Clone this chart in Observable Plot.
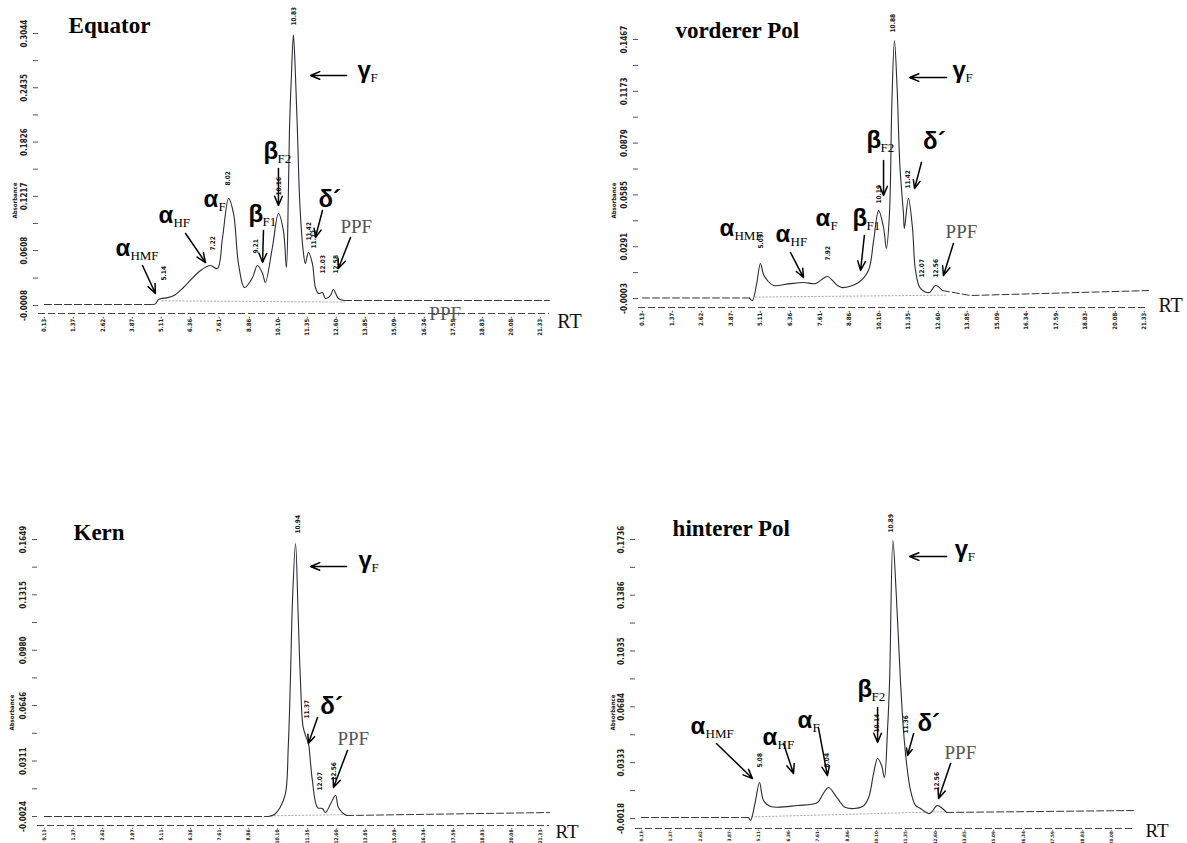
<!DOCTYPE html>
<html><head><meta charset="utf-8">
<script src="https://cdn.jsdelivr.net/npm/d3@7"></script>
<script src="https://cdn.jsdelivr.net/npm/@observablehq/plot@0.6"></script>
<style>
body{margin:0;background:#fff;}
#wrap{position:relative;width:1187px;height:843px;overflow:hidden;background:#fff;}
#wrap svg{position:absolute;left:0;top:0;}
</style></head><body><div id="wrap"></div>
<script>
// ---------- shared RT axis ticks ----------
const rtTicks = [0.13,1.37,2.62,3.87,5.11,6.36,7.61,8.86,10.10,11.35,12.60,13.85,15.09,16.34,17.59,18.83,20.08,21.33];
const rtTicksHinten = [0.13,1.37,2.62,3.87,5.11,6.36,7.61,8.86,10.10,11.35,12.60,13.85,15.09,16.34,17.59,18.83,20.08];

const panelTitles = ["Equator","vorderer Pol","Kern","hinterer Pol"];
const titleRT  = [1.16, 1.52, 1.37, 1.45];
const titleAbs = [0.3055, 0.1478, 0.1643, 0.1761];
const rtLabelRT  = [22.05, 21.92, 21.97, 21.52];
const rtLabelAbs = [-0.0266, -0.0077, -0.0151, -0.0137];
const absLabelRT  = [-1.11, -1.09, -1.24, -1.06];
const absLabelAbs = [0.1170, 0.0553, 0.0604, 0.0648];

// ---------- Equator ----------
const eqYTicks = [-0.0008, 0.0608, 0.1217, 0.1826, 0.2435, 0.3044];
const eqRT  = [0.13,4.75,4.87,5.00,5.14,5.40,5.70,6.07,6.80,7.22,7.52,7.74,8.00,8.21,8.42,8.68,9.02,9.23,9.45,9.57,9.87,10.13,10.34,10.47,10.55,10.60,10.68,10.77,10.86,10.94,11.05,11.20,11.28,11.41,11.58,11.71,11.84,12.01,12.14,12.35,12.48,12.69,12.95,21.71];
const eqAbs = [0.0003,0.0003,0.0010,0.0060,0.0071,0.0080,0.0110,0.0194,0.0385,0.0441,0.0407,0.0755,0.1193,0.1024,0.0463,0.0194,0.0306,0.0441,0.0351,0.0250,0.0643,0.1024,0.0834,0.0418,0.1200,0.1956,0.2550,0.3030,0.2550,0.1956,0.1100,0.0575,0.0463,0.0587,0.0463,0.0194,0.0127,0.0138,0.0071,0.0104,0.0172,0.0071,0.0048,0.0048];
const eqBaseRT = [5.14, 12.95];
const eqBaseAbs = [0.0045, 0.0030];
const eqPeakText = ["5.14","7.22","8.02","9.21","10.16","10.83","11.42","11.72","12.03","12.58"];
const eqPeakRT  = [5.22, 7.31, 7.99, 9.15, 10.17, 10.77, 11.41, 11.63, 12.05, 12.57];
const eqPeakAbs = [0.0273, 0.0609, 0.1338, 0.0575, 0.1226, 0.3134, 0.0721, 0.0632, 0.0351, 0.0351];
const eqSymMain = ["γ","β","α","β","δ´","α","α"];
const eqSymSub  = ["F","F2","F","F1","","HF","HMF"];
const eqSymRT   = [13.51, 9.49, 6.93, 8.85, 11.84, 5.00, 3.16];
const eqSymAbs  = [0.2550, 0.1641, 0.1092, 0.0934, 0.1092, 0.0923, 0.0553];
const eqArrRT1  = [13.04, 10.13, 9.49, 12.01, 6.16, 4.32, 13.21];
const eqArrAbs1 = [0.2573, 0.1529, 0.0834, 0.1058, 0.0800, 0.0441, 0.0755];
const eqArrRT2  = [11.50, 10.13, 9.45, 11.71, 7.01, 4.87, 12.69];
const eqArrAbs2 = [0.2573, 0.1114, 0.0474, 0.0755, 0.0474, 0.0127, 0.0407];
const eqPpfRT  = [12.78, 16.58];
const eqPpfAbs = [0.0800, -0.0176];

// ---------- vorderer Pol ----------
const vpYTicks = [-0.0003, 0.0291, 0.0585, 0.0879, 0.1173, 0.1467];
const vpRT  = [0.13,4.65,4.77,4.95,5.11,5.25,5.41,5.66,6.30,6.93,7.44,7.70,7.94,8.36,8.58,9.25,9.67,9.89,10.10,10.31,10.43,10.56,10.66,10.77,10.88,11.00,11.15,11.19,11.36,11.53,11.66,11.87,12.25,12.50,12.80,13.98,21.50];
const vpAbs = [0.0000,0.0000,-0.0015,0.0080,0.0196,0.0130,0.0099,0.0071,0.0080,0.0088,0.0082,0.0105,0.0122,0.0071,0.0059,0.0088,0.0156,0.0326,0.0496,0.0400,0.0281,0.0479,0.1100,0.1461,0.1200,0.0750,0.0479,0.0394,0.0565,0.0400,0.0156,0.0054,0.0031,0.0071,0.0042,0.0014,0.0042];
const vpBaseRT = [4.90, 13.00];
const vpBaseAbs = [0.0005, 0.0016];
const vpPeakText = ["5.09","7.92","10.19","10.88","11.42","12.07","12.56"];
const vpPeakRT  = [5.11, 7.98, 10.10, 10.69, 11.32, 11.95, 12.50];
const vpPeakAbs = [0.0281, 0.0213, 0.0536, 0.1507, 0.0621, 0.0116, 0.0116];
const vpSymMain = ["γ","β","δ´","α","α","α","β"];
const vpSymSub  = ["F","F2","","HMF","HF","F","F1"];
const vpSymRT   = [13.22, 9.59, 11.98, 3.38, 5.75, 7.44, 9.00];
const vpSymAbs  = [0.1246, 0.0854, 0.0848, 0.0349, 0.0315, 0.0411, 0.0411];
const vpArrRT1  = [12.97, 10.31, 11.91, 6.38, 9.50, 13.26];
const vpArrAbs1 = [0.1251, 0.0780, 0.0769, 0.0258, 0.0355, 0.0309];
const vpArrRT2  = [11.41, 10.31, 11.62, 6.93, 9.34, 12.84];
const vpArrAbs2 = [0.1251, 0.0582, 0.0621, 0.0116, 0.0156, 0.0128];
const vpPpfRT  = [12.93];
const vpPpfAbs = [0.0338];

// ---------- Kern ----------
const knYTicks = [-0.0024, 0.0311, 0.0646, 0.0980, 0.1315, 0.1649];
const knRT  = [0.13,9.70,9.96,10.20,10.43,10.55,10.64,10.73,10.86,10.97,11.07,11.18,11.30,11.41,11.50,11.58,11.80,12.01,12.14,12.35,12.57,12.69,12.86,13.04,21.71];
const knAbs = [-0.0024,-0.0024,-0.0012,0.0030,0.0115,0.0400,0.0797,0.1281,0.1625,0.1200,0.0797,0.0520,0.0460,0.0417,0.0300,0.0193,0.0030,0.0024,0.0000,0.0050,0.0103,0.0030,0.0000,-0.0018,0.0000];
const knBaseRT = [9.80, 13.04];
const knBaseAbs = [-0.0020, -0.0012];
const knPeakText = ["10.94","11.37","12.07","12.56"];
const knPeakRT  = [10.94, 11.33, 11.92, 12.52];
const knPeakAbs = [0.1685, 0.0568, 0.0133, 0.0193];
const knSymMain = ["γ","δ´"];
const knSymSub  = ["F",""];
const knSymRT   = [13.55, 11.92];
const knSymAbs  = [0.1474, 0.0598];
const knArrRT1  = [13.04, 11.80, 13.08];
const knArrAbs1 = [0.1486, 0.0574, 0.0375];
const knArrRT2  = [11.50, 11.41, 12.48];
const knArrAbs2 = [0.1486, 0.0417, 0.0151];
const knPpfRT  = [12.65];
const knPpfAbs = [0.0405];

// ---------- hinterer Pol ----------
const hpYTicks = [-0.0018, 0.0333, 0.0684, 0.1035, 0.1386, 0.1736];
const hpRT  = [0.13,4.68,4.76,4.95,5.14,5.31,5.61,6.75,7.60,7.85,8.07,8.45,8.79,9.51,9.77,9.98,10.15,10.32,10.44,10.57,10.66,10.80,10.94,11.12,11.25,11.38,11.55,11.76,11.97,12.35,12.69,12.90,13.08,21.01];
const hpAbs = [-0.0012,-0.0012,-0.0030,0.0080,0.0208,0.0095,0.0057,0.0064,0.0083,0.0140,0.0177,0.0108,0.0051,0.0057,0.0114,0.0265,0.0359,0.0315,0.0240,0.0535,0.0850,0.1730,0.1400,0.0850,0.0535,0.0328,0.0158,0.0064,0.0045,0.0013,0.0064,0.0045,0.0020,0.0032];
const hpBaseRT = [4.80, 13.08];
const hpBaseAbs = [-0.0008, 0.0025];
const hpPeakText = ["5.08","8.04","10.14","10.89","11.36","12.56"];
const hpPeakRT  = [5.14, 8.02, 10.10, 10.70, 11.34, 12.65];
const hpPeakAbs = [0.0303, 0.0303, 0.0523, 0.1780, 0.0516, 0.0158];
const hpSymMain = ["γ","β","δ´","α","α","α"];
const hpSymSub  = ["F","F2","","HMF","HF","F"];
const hpSymRT   = [13.42, 9.30, 11.84, 2.21, 5.27, 6.75];
const hpSymAbs  = [0.1629, 0.0743, 0.0535, 0.0516, 0.0441, 0.0548];
const hpArrRT1  = [13.08, 10.15, 11.68, 13.25, 3.31, 6.16, 7.64];
const hpArrAbs1 = [0.1629, 0.0680, 0.0516, 0.0328, 0.0454, 0.0454, 0.0554];
const hpArrRT2  = [11.51, 10.15, 11.42, 12.74, 4.84, 6.58, 8.02];
const hpArrAbs2 = [0.1629, 0.0460, 0.0378, 0.0108, 0.0233, 0.0265, 0.0252];
const hpPpfRT  = [12.99];
const hpPpfAbs = [0.0359];

// ---------- layout (pixels) ----------
const W = 1187, H = 843;
const layouts = [
  {axisX: 38, top: 32, bottom: 313, right: 549, xRange: [44, 540], yRange: [305, 33], lo: 4.75, hi: 12.95, xFont: 6, xPad: 3, rtFont: 20},
  {axisX: 638, top: 39, bottom: 307, right: 1148, xRange: [642, 1144], yRange: [298, 39], lo: 4.65, hi: 12.80, xFont: 6, xPad: 3, rtFont: 20},
  {axisX: 37, top: 539, bottom: 825, right: 549, xRange: [44, 540], yRange: [816, 539], lo: 9.70, hi: 13.04, xFont: 5, xPad: 2, rtFont: 19},
  {axisX: 635, top: 539, bottom: 828, right: 1133, xRange: [641, 1140.5], yRange: [818, 539], lo: 4.68, hi: 13.08, xFont: 4.6, xPad: 1, rtFont: 19}
];

const panels = [
  {yTicks: eqYTicks, xTicks: rtTicks, rt: eqRT, abs: eqAbs, baseRT: eqBaseRT, baseAbs: eqBaseAbs,
   peakText: eqPeakText, peakRT: eqPeakRT, peakAbs: eqPeakAbs,
   symMain: eqSymMain, symSub: eqSymSub, symRT: eqSymRT, symAbs: eqSymAbs,
   a1: eqArrRT1, b1: eqArrAbs1, a2: eqArrRT2, b2: eqArrAbs2, ppfRT: eqPpfRT, ppfAbs: eqPpfAbs},
  {yTicks: vpYTicks, xTicks: rtTicks, rt: vpRT, abs: vpAbs, baseRT: vpBaseRT, baseAbs: vpBaseAbs,
   peakText: vpPeakText, peakRT: vpPeakRT, peakAbs: vpPeakAbs,
   symMain: vpSymMain, symSub: vpSymSub, symRT: vpSymRT, symAbs: vpSymAbs,
   a1: vpArrRT1, b1: vpArrAbs1, a2: vpArrRT2, b2: vpArrAbs2, ppfRT: vpPpfRT, ppfAbs: vpPpfAbs},
  {yTicks: knYTicks, xTicks: rtTicks, rt: knRT, abs: knAbs, baseRT: knBaseRT, baseAbs: knBaseAbs,
   peakText: knPeakText, peakRT: knPeakRT, peakAbs: knPeakAbs,
   symMain: knSymMain, symSub: knSymSub, symRT: knSymRT, symAbs: knSymAbs,
   a1: knArrRT1, b1: knArrAbs1, a2: knArrRT2, b2: knArrAbs2, ppfRT: knPpfRT, ppfAbs: knPpfAbs},
  {yTicks: hpYTicks, xTicks: rtTicksHinten, rt: hpRT, abs: hpAbs, baseRT: hpBaseRT, baseAbs: hpBaseAbs,
   peakText: hpPeakText, peakRT: hpPeakRT, peakAbs: hpPeakAbs,
   symMain: hpSymMain, symSub: hpSymSub, symRT: hpSymRT, symAbs: hpSymAbs,
   a1: hpArrRT1, b1: hpArrAbs1, a2: hpArrRT2, b2: hpArrAbs2, ppfRT: hpPpfRT, ppfAbs: hpPpfAbs}
];

const SANS = "'Liberation Sans', Arial, sans-serif";
const SERIF = "'Liberation Serif', 'Times New Roman', serif";
const NARROW = "'Liberation Sans Narrow', 'DejaVu Sans Condensed', 'DejaVu Sans', sans-serif";
const subShift = {"α": 15, "β": 14, "γ": 13};

function makePanel(p, L, i) {
  const trace = p.rt.map((t, k) => ({rt: t, a: p.abs[k]}));
  const left = trace.filter(d => d.rt <= L.lo);
  const mid = trace.filter(d => d.rt >= L.lo && d.rt <= L.hi);
  const right = trace.filter(d => d.rt >= L.hi);
  const base = p.baseRT.map((t, k) => ({rt: t, a: p.baseAbs[k]}));
  const minor = p.yTicks.slice(1).map((v, k) => (v + p.yTicks[k]) / 2);
  const peaks = p.peakText.map((t, k) => ({t, rt: p.peakRT[k], a: p.peakAbs[k]}));
  const syms = p.symMain.map((m, k) => ({m, s: p.symSub[k], rt: p.symRT[k], a: p.symAbs[k]}));
  const arrows = p.a1.map((v, k) => ({x1: v, y1: p.b1[k], x2: p.a2[k], y2: p.b2[k]}));
  const ppf = p.ppfRT.map((v, k) => ({rt: v, a: p.ppfAbs[k]}));
  const axisDrop = L.bottom - L.yRange[0];

  const subMarks = Object.entries(subShift).map(([g, w]) =>
    Plot.text(syms.filter(r => r.m === g && r.s), {x: "rt", y: "a", text: "s", dx: w, dy: 4,
      textAnchor: "start", lineAnchor: "bottom", fontSize: 13, fontFamily: SERIF, fill: "#000"}));

  return Plot.plot({
    width: W, height: H,
    marginLeft: L.axisX, marginTop: L.top, marginBottom: H - L.bottom, marginRight: W - L.right,
    x: {domain: [0.13, 21.33], range: L.xRange},
    y: {domain: [p.yTicks[0], p.yTicks[5]], range: L.yRange},
    style: {background: "transparent", overflow: "visible", fontFamily: SANS},
    marks: [
      Plot.ruleY([p.yTicks[0]], {dy: axisDrop, stroke: "#444", strokeWidth: 1, strokeDasharray: "7,3"}),
      Plot.axisY({ticks: minor, tickSize: 5, tickFormat: () => "", label: null, stroke: "#5c4a86"}),
      Plot.axisY({ticks: p.yTicks, tickSize: 5, tickPadding: 7, tickRotate: -90, fontSize: 8, fontWeight: "bold",
        fontFamily: NARROW, tickFormat: d => d.toFixed(4), label: null, line: true, stroke: "#5c4a86", fill: "#222"}),
      Plot.axisX({ticks: p.xTicks, tickSize: 0, tickPadding: L.xPad, tickRotate: -90, fontSize: L.xFont, fontWeight: "bold",
        fontFamily: NARROW, tickFormat: d => d.toFixed(2) + "-", label: null, fill: "#222"}),
      Plot.text(["Absorbance"], {x: [absLabelRT[i]], y: [absLabelAbs[i]], text: d => d, rotate: -90,
        fontSize: 6, fontWeight: "bold", fontFamily: NARROW, fill: "#222"}),
      Plot.line(base, {x: "rt", y: "a", stroke: "#999", strokeWidth: 0.8, strokeDasharray: "1.5,2"}),
      Plot.line(left, {x: "rt", y: "a", stroke: "#333", strokeWidth: 1, strokeDasharray: "7,3"}),
      Plot.line(right, {x: "rt", y: "a", stroke: "#333", strokeWidth: 1, strokeDasharray: "7,3"}),
      Plot.line(mid, {x: "rt", y: "a", stroke: "#2a2a3a", strokeWidth: 1.1, curve: "catmull-rom"}),
      Plot.text(peaks, {x: "rt", y: "a", text: "t", rotate: -90, textAnchor: "start", lineAnchor: "middle",
        fontSize: 6.5, fontWeight: "bold", fontFamily: NARROW, fill: "#111"}),
      Plot.arrow(arrows, {x1: "x1", y1: "y1", x2: "x2", y2: "y2", stroke: "#000", strokeWidth: 1.5,
        headLength: 10, headAngle: 45}),
      Plot.text(syms, {x: "rt", y: "a", text: "m", textAnchor: "start", lineAnchor: "bottom",
        fontSize: 24, fontWeight: "bold", fontFamily: SANS, fill: "#000"}),
      ...subMarks,
      Plot.text(ppf, {x: "rt", y: "a", text: () => "PPF", textAnchor: "start", lineAnchor: "bottom",
        fontSize: 19, fontFamily: SERIF, fill: "#555"}),
      Plot.text([panelTitles[i]], {x: [titleRT[i]], y: [titleAbs[i]], text: d => d, textAnchor: "start",
        lineAnchor: "bottom", fontSize: 23, fontWeight: "bold", fontFamily: SERIF, fill: "#000"}),
      Plot.text(["RT"], {x: [rtLabelRT[i]], y: [rtLabelAbs[i]], text: d => d, textAnchor: "start",
        lineAnchor: "bottom", fontSize: L.rtFont, fontFamily: SERIF, fill: "#111"})
    ]
  });
}

const wrap = document.getElementById("wrap");
panels.forEach((p, i) => wrap.appendChild(makePanel(p, layouts[i], i)));
</script>
</body></html>
